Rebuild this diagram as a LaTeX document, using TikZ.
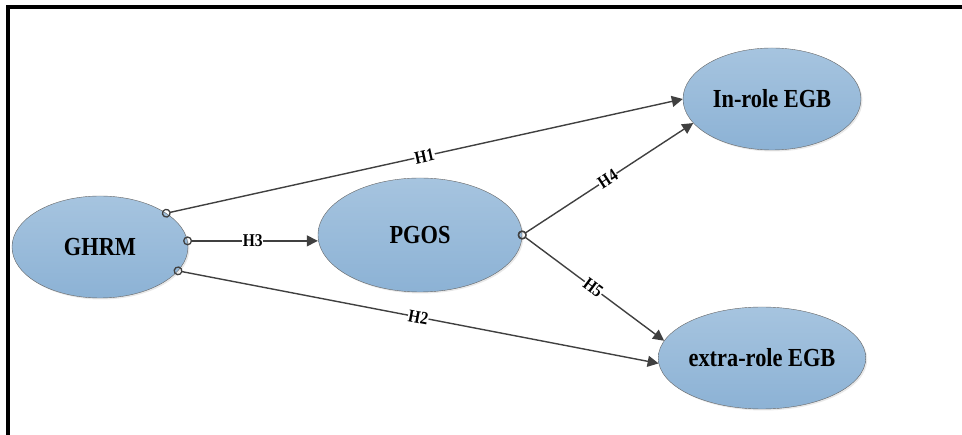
\documentclass[tikz,border=0pt]{standalone}
\usepackage{fontspec}
\setmainfont{Liberation Serif}
\usepackage{tikz}
\usetikzlibrary{shapes,arrows.meta,shadows}

\definecolor{ellTop}{RGB}{166,196,223}
\definecolor{ellBot}{RGB}{140,178,213}
\definecolor{lineGray}{RGB}{64,64,64}

% narrow bold text, as in the drawing
\newcommand{\narrowtext}[1]{\scalebox{0.86}[1]{#1}}

\tikzset{
    construct/.style={ellipse, draw=lineGray!80, thin, top color=ellTop, bottom color=ellBot,
        inner sep=0pt, font=\bfseries\fontsize{26}{28}\selectfont,
        drop shadow={opacity=0.18, shadow xshift=1.5pt, shadow yshift=-1.5pt}},
    hyp/.style={draw=lineGray, line width=1.4pt,
        {Circle[open, length=9pt, width=9pt, line width=1.3pt]}-{Triangle[length=11pt, width=11pt]},
        shorten <=-4.5pt},
    hlabel/.style={midway, sloped, fill=white, inner sep=0.5pt, text=black,
        font=\bfseries\fontsize{18}{18}\selectfont}
}

\begin{document}
\begin{tikzpicture}[x=1pt, y=-1pt]
    \useasboundingbox (0,0) rectangle (962,435);

    % Frame
    \draw[line width=4pt] (8,435) -- (8,7) -- (962,7);

    % Constructs
    \node[construct, minimum width=176pt, minimum height=102pt] (ghrm) at (100,247) {\narrowtext{GHRM}};
    \node[construct, minimum width=204pt, minimum height=114pt] (pgos) at (420,235) {\narrowtext{PGOS}};
    \node[construct, minimum width=178pt, minimum height=102pt] (inrole) at (772,99) {\narrowtext{In-role EGB}};
    \node[construct, minimum width=177pt, minimum height=102pt] (extrarole) at (762,358) {\narrowtext{extra-role EGB}};

    % Hypotheses
    \draw[hyp] (ghrm.27) -- (inrole.180) node[hlabel] {\narrowtext{H1}};
    \draw[hyp] (ghrm.-17) -- (extrarole.183) node[hlabel] {\narrowtext{H2}};
    \draw[hyp] (ghrm.4) -- (pgos.west |- ghrm.4) node[hlabel] {\narrowtext{H3}};
    \draw[hyp] (pgos.east) -- (inrole.-163) node[hlabel] {\narrowtext{H4}};
    \draw[hyp] (pgos.east) -- (extrarole.170) node[hlabel] {\narrowtext{H5}};

\end{tikzpicture}
\end{document}
